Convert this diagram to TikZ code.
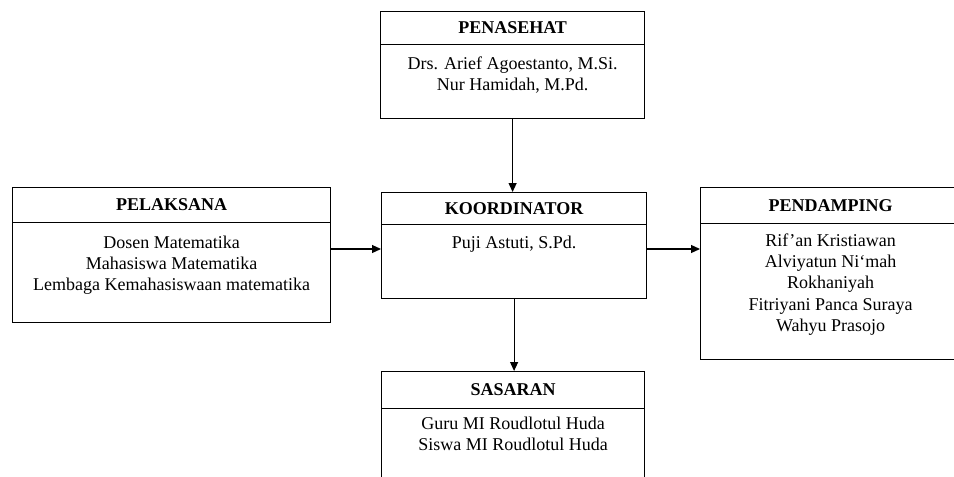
\documentclass[tikz,border=0pt]{standalone}
\usepackage{fontspec}
\setmainfont{Liberation Serif}
\usetikzlibrary{arrows.meta}
\tikzset{
 frame/.style={draw, line width=1.2pt, inner sep=0pt, anchor=north west},
 head/.style={frame, font=\fontsize{18}{21.3}\selectfont\bfseries},
 txt/.style={anchor=north, inner sep=0pt, align=center, font=\fontsize{18}{21.3}\selectfont},
 arr/.style={line width=1.2pt, -{Triangle[length=9pt,width=8pt]}}
}
\begin{document}
\begin{tikzpicture}[x=1pt,y=-1pt]
\useasboundingbox (0,0) rectangle (954,477);
\clip (0,0) rectangle (954,477);
% PENASEHAT
\node[head, minimum width=264pt, minimum height=33pt] (ph) at (380,11) {PENASEHAT};
\node[frame, minimum width=264pt, minimum height=74pt] (pb) at (380,44) {};
\node[txt, yshift=-10pt] (pt) at (pb.north) {\strut Drs. Arief Agoestanto, M.Si.\\Nur Hamidah, M.Pd.};
% KOORDINATOR
\node[head, minimum width=265pt, minimum height=32pt] (kh) at (381,192) {KOORDINATOR};
\node[frame, minimum width=265pt, minimum height=74pt] (kb) at (381,224) {};
\node[txt, yshift=-9pt] (kt) at (kb.north) {\strut Puji Astuti, S.Pd.};
% PELAKSANA
\node[head, minimum width=318pt, minimum height=35pt] (lh) at (12,187) {PELAKSANA};
\node[frame, minimum width=318pt, minimum height=100pt] (lb) at (12,222) {};
\node[txt, yshift=-11pt] (lt) at (lb.north) {\strut Dosen Matematika\\Mahasiswa Matematika\\Lembaga Kemahasiswaan matematika};
% PENDAMPING
\node[head, minimum width=260pt, minimum height=36pt] (dh) at (700,187) {PENDAMPING};
\node[frame, minimum width=260pt, minimum height=136pt] (db) at (700,223) {};
\node[txt, yshift=-8pt] (dt) at (db.north) {\strut Rif’an Kristiawan\\Alviyatun Ni‘mah\\Rokhaniyah\\Fitriyani Panca Suraya\\Wahyu Prasojo};
% SASARAN
\node[head, minimum width=263pt, minimum height=37pt] (sh) at (381,371) {SASARAN};
\node[frame, minimum width=263pt, minimum height=90pt] (sb) at (381,408) {};
\node[txt, yshift=-6pt] (st) at (sb.north) {\strut Guru MI Roudlotul Huda\\Siswa MI Roudlotul Huda};
% connectors
\coordinate (mid) at (0,249);
\draw[arr] (pb.south) -- (pb.south |- kh.north);
\draw[arr] (lb.east |- mid) -- (kb.west |- mid);
\draw[arr] (kb.east |- mid) -- (db.west |- mid);
\draw[arr] (kb.south) -- (kb.south |- sh.north);
\end{tikzpicture}
\end{document}
